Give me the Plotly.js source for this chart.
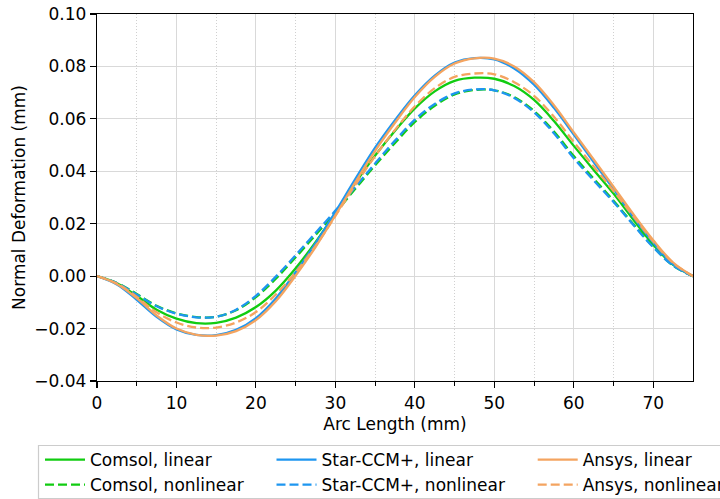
<!DOCTYPE html>
<html>
<head>
<meta charset="utf-8">
<script src="https://cdn.plot.ly/plotly-3.0.1.min.js"></script>
<style>html,body{margin:0;padding:0;background:#fff;}#chart{width:720px;height:499px;}</style>
</head>
<body>
<div id="chart"></div>
<script>
// Arc length positions (mm)
const arcLength = [0, 2.5, 5, 7.5, 10, 12.5, 15, 17.5, 20, 22.5, 25, 27.5, 30, 32.5, 35, 37.5, 40, 42.5, 45, 47.5, 50, 52.5, 55, 57.5, 60, 62.5, 65, 67.5, 70, 72.5, 75];

// Normal deformation (mm)
const comsolLinear    = [0, -0.0027, -0.0075, -0.0128, -0.0162, -0.0179, -0.0178, -0.0158, -0.0118, -0.0055, 0.0030, 0.0130, 0.0240, 0.0355, 0.0460, 0.0555, 0.0640, 0.0705, 0.0745, 0.0757, 0.0753, 0.0725, 0.0672, 0.0592, 0.0497, 0.0405, 0.0315, 0.0215, 0.0120, 0.0043, 0];
const comsolNonlinear = [0, -0.0026, -0.0068, -0.0113, -0.0142, -0.0156, -0.0155, -0.0130, -0.0080, -0.0010, 0.0072, 0.0157, 0.0242, 0.0333, 0.0423, 0.0508, 0.0588, 0.0650, 0.0693, 0.0710, 0.0709, 0.0683, 0.0630, 0.0552, 0.0458, 0.0372, 0.0288, 0.0198, 0.0112, 0.0040, 0];
const starLinear      = [0, -0.0032, -0.0090, -0.0155, -0.0203, -0.0224, -0.0225, -0.0205, -0.0160, -0.0085, 0.0015, 0.0125, 0.0245, 0.0370, 0.0490, 0.0595, 0.0690, 0.0765, 0.0815, 0.0832, 0.0827, 0.0792, 0.0730, 0.0642, 0.0540, 0.0435, 0.0332, 0.0225, 0.0128, 0.0045, 0];
const starNonlinear   = [0, -0.0026, -0.0070, -0.0115, -0.0143, -0.0157, -0.0155, -0.0128, -0.0075, -0.0002, 0.0080, 0.0165, 0.0250, 0.0340, 0.0430, 0.0517, 0.0597, 0.0657, 0.0697, 0.0712, 0.0709, 0.0680, 0.0625, 0.0545, 0.0450, 0.0365, 0.0283, 0.0195, 0.0110, 0.0040, 0];
const ansysLinear     = [0, -0.0030, -0.0084, -0.0150, -0.0200, -0.0224, -0.0227, -0.0210, -0.0168, -0.0096, 0.0002, 0.0111, 0.0232, 0.0358, 0.0478, 0.0585, 0.0683, 0.0760, 0.0811, 0.0831, 0.0830, 0.0800, 0.0740, 0.0652, 0.0548, 0.0445, 0.0341, 0.0236, 0.0137, 0.0052, 0];
const ansysNonlinear  = [0, -0.0028, -0.0079, -0.0138, -0.0177, -0.0196, -0.0196, -0.0177, -0.0137, -0.0070, 0.0015, 0.0115, 0.0230, 0.0348, 0.0458, 0.0558, 0.0648, 0.0717, 0.0760, 0.0773, 0.0770, 0.0740, 0.0688, 0.0608, 0.0512, 0.0418, 0.0325, 0.0228, 0.0132, 0.0050, 0];

const seriesNames = ['Comsol, linear', 'Comsol, nonlinear', 'Star-CCM+, linear', 'Star-CCM+, nonlinear', 'Ansys, linear', 'Ansys, nonlinear'];
const xTickVals = [0, 10, 20, 30, 40, 50, 60, 70];
const xMinorVals = [5, 15, 25, 35, 45, 55, 65];
const yTickVals = [-0.04, -0.02, 0.00, 0.02, 0.04, 0.06, 0.08, 0.10];

const GREEN = '#11cc11', BLUE = '#1e96f0', ORANGE = '#f4a460';
const FONT = 'DejaVu Sans, Liberation Sans, sans-serif';
const FS = 17;

function tr(y, name, color, dashed, legend, rank) {
  return {
    x: arcLength, y: y, name: name, type: 'scatter', mode: 'lines',
    line: {color: color, width: 2.3, dash: dashed ? '9px,4px' : 'solid', shape: 'spline', smoothing: 1},
    legend: legend, legendrank: rank, legendgroup: name, hoverinfo: 'skip'
  };
}

const data = [
  tr(comsolLinear, seriesNames[0], GREEN, false, 'legend', 1),
  tr(comsolNonlinear, seriesNames[1], GREEN, true, 'legend', 2),
  tr(starLinear, seriesNames[2], BLUE, false, 'legend2', 1),
  tr(starNonlinear, seriesNames[3], BLUE, true, 'legend2', 2),
  tr(ansysLinear, seriesNames[4], ORANGE, false, 'legend3', 1),
  tr(ansysNonlinear, seriesNames[5], ORANGE, true, 'legend3', 2)
];

const W = 596, H = 367; // plot area in px
function px2x(p) { return (p - 97) / W; }
function px2y(p) { return (381 - p) / H; }

function leg(xpx) {
  return {
    x: px2x(xpx), xanchor: 'left', y: px2y(442), yanchor: 'top',
    orientation: 'v', bgcolor: 'rgba(0,0,0,0)', borderwidth: 0,
    font: {family: FONT, size: FS, color: '#000'},
    tracegroupgap: 0, itemwidth: 40
  };
}

const layout = {
  width: 720, height: 499,
  margin: {l: 97, r: 27, t: 14, b: 118, autoexpand: false},
  paper_bgcolor: '#fff', plot_bgcolor: '#fff',
  font: {family: FONT, size: FS, color: '#000'},
  showlegend: true,
  xaxis: {
    range: [0, 75], tickvals: xTickVals, ticktext: xTickVals.map(String),
    ticks: 'outside', ticklen: 6, tickwidth: 1.1, tickcolor: '#000',
    showline: true, linecolor: '#000', linewidth: 1.2, mirror: true,
    showgrid: true, gridcolor: '#d9d9d9', gridwidth: 1, zeroline: false,
    tickfont: {family: FONT, size: FS, color: '#000'},
    minor: {tickmode: 'array', tickvals: xMinorVals, ticks: 'outside', ticklen: 3.5, tickcolor: '#000', tickwidth: 1, showgrid: true, gridcolor: '#d0d0d0', griddash: '1px,2px', gridwidth: 1},
    title: {text: 'Arc Length (mm)', font: {family: FONT, size: FS, color: '#000'}, standoff: 6}
  },
  yaxis: {
    range: [-0.04, 0.10], tickvals: yTickVals, tickformat: '.2f',
    ticks: 'outside', ticklen: 6, tickwidth: 1.1, tickcolor: '#000',
    showline: true, linecolor: '#000', linewidth: 1.2, mirror: true,
    showgrid: true, gridcolor: '#d9d9d9', gridwidth: 1, zeroline: false,
    tickfont: {family: FONT, size: FS, color: '#000'},
    title: {text: 'Normal Deformation (mm)', font: {family: FONT, size: FS, color: '#000'}, standoff: 4}
  },
  legend: leg(40),
  legend2: leg(271.5),
  legend3: leg(532.7),
  shapes: [{
    type: 'rect', xref: 'paper', yref: 'paper',
    x0: px2x(38.5), x1: px2x(760), y0: px2y(445.5), y1: px2y(498.5),
    line: {color: '#cccccc', width: 1.2}, fillcolor: 'rgba(255,255,255,0.8)', layer: 'below'
  }]
};

Plotly.newPlot('chart', data, layout, {displayModeBar: false, staticPlot: true});
</script>
</body>
</html>
